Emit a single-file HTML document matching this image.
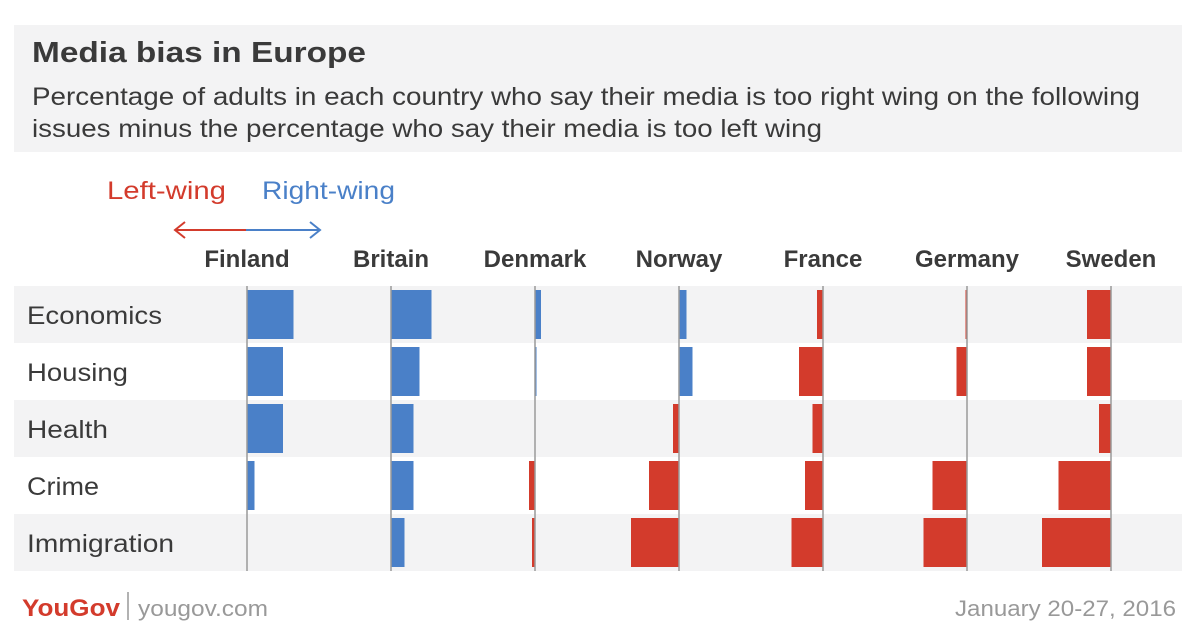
<!DOCTYPE html>
<html><head><meta charset="utf-8">
<style>
body{margin:0;background:#fff;font-family:"Liberation Sans",sans-serif;}
#c{position:relative;width:1200px;height:638px;overflow:hidden;}
</style></head><body>
<div id="c">
<svg id="s" width="1200" height="638" xmlns="http://www.w3.org/2000/svg">
<rect x="14" y="25" width="1168" height="127" fill="#f3f3f4"/>
<text x="32" y="62" font-size="29" font-weight="bold" fill="#3a3a3a" textLength="334" lengthAdjust="spacingAndGlyphs">Media bias in Europe</text>
<text x="32" y="105" font-size="25" fill="#3a3a3a" textLength="1108" lengthAdjust="spacingAndGlyphs">Percentage of adults in each country who say their media is too right wing on the following</text>
<text x="32" y="137" font-size="25" fill="#3a3a3a" textLength="790" lengthAdjust="spacingAndGlyphs">issues minus the percentage who say their media is too left wing</text>
<text x="107" y="199" font-size="25" fill="#d33b2c" textLength="119" lengthAdjust="spacingAndGlyphs">Left-wing</text>
<text x="262" y="199" font-size="25" fill="#4a80c8" textLength="133" lengthAdjust="spacingAndGlyphs">Right-wing</text>
<g><line x1="175" y1="230" x2="246" y2="230" stroke="#d33b2c" stroke-width="2"/><polyline points="185,222 175,230 185,238" fill="none" stroke="#d33b2c" stroke-width="2"/></g>
<g><line x1="246" y1="230" x2="320" y2="230" stroke="#4a80c8" stroke-width="2"/><polyline points="310,222 320,230 310,238" fill="none" stroke="#4a80c8" stroke-width="2"/></g>
<g id="rows"></g><g id="bars"></g><g id="axes"></g>
<text x="22" y="616" font-size="24" font-weight="bold" fill="#d33b2c" textLength="98" lengthAdjust="spacingAndGlyphs">YouGov</text>
<line x1="128" y1="592" x2="128" y2="620" stroke="#999" stroke-width="1.5"/>
<text x="138" y="616" font-size="22" fill="#999" textLength="130" lengthAdjust="spacingAndGlyphs">yougov.com</text>
<text x="1176" y="616" font-size="22" fill="#999" text-anchor="end" textLength="221" lengthAdjust="spacingAndGlyphs">January 20-27, 2016</text>
</svg></div>
<script>
const countries=["Finland","Britain","Denmark","Norway","France","Germany","Sweden"];
const issues=["Economics","Housing","Health","Crime","Immigration"];
const issueWidths=[135,101,81,72,147];
const finland=[31,24,24,5,0];
const britain=[27,19,15,15,9];
const denmark=[4,1,0,-4,-2];
const norway=[5,9,-4,-20,-32];
const france=[-4,-16,-7,-12,-21];
const germany=[-1,-7,0,-23,-29];
const sweden=[-16,-16,-8,-35,-46];
const series=[finland,britain,denmark,norway,france,germany,sweden];
const NS="http://www.w3.org/2000/svg";
const x0=i=>247+i*144;
const xs=v=>v*1.5;
const yRow=j=>286+j*57;
const rows=document.getElementById('rows'),bars=document.getElementById('bars'),axes=document.getElementById('axes');
function mk(tag,at,parent){const e=document.createElementNS(NS,tag);for(const k in at)e.setAttribute(k,at[k]);parent.appendChild(e);return e;}
issues.forEach((n,j)=>{
  const r=mk('rect',{x:14,y:yRow(j),width:1168,height:57,fill:j%2?'#fff':'#f3f3f4'},rows);
  
  
  const t=mk('text',{x:27,y:yRow(j)+38,'font-size':25,fill:'#3a3a3a',textLength:issueWidths[j],lengthAdjust:'spacingAndGlyphs'},rows);t.textContent=n;
  
  
});
countries.forEach((c,i)=>{
  const t=mk('text',{x:x0(i),y:267,'font-size':24,'font-weight':'bold','text-anchor':'middle',fill:'#3a3a3a'},axes);t.textContent=c;
  
  
  const l=mk('line',{x1:x0(i),x2:x0(i),y1:286,y2:571,stroke:'#999','stroke-width':1.5},axes);
  
  
  series[i].forEach((v,j)=>{
    if(v===0)return;
    const w=xs(Math.abs(v));
    const b=mk('rect',{x:v>0?x0(i):x0(i)-w,y:yRow(j)+4,width:w,height:49,fill:v>0?'#4a80c8':'#d33b2c'},bars);
    
    
  });
});
</script>
</body></html>
